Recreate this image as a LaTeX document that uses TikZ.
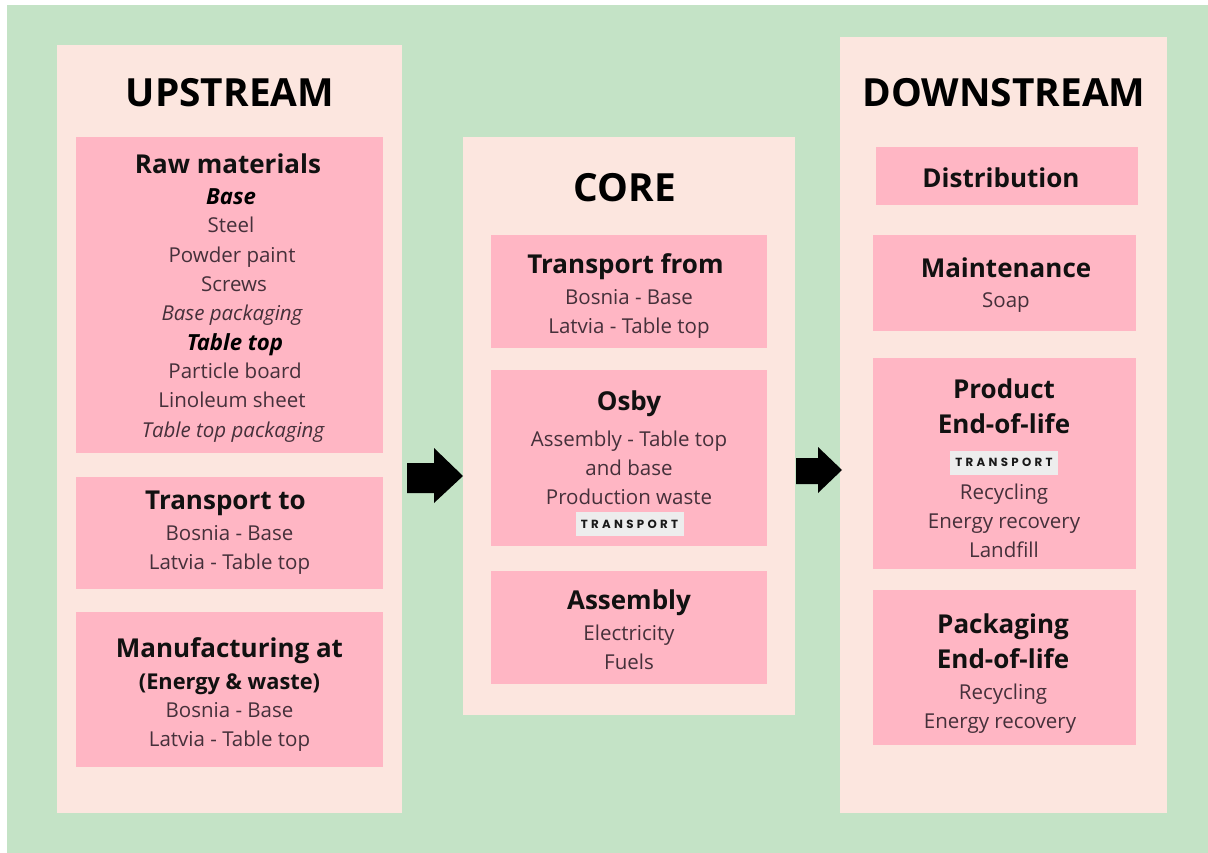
\documentclass[tikz,border=0pt]{standalone}
\usepackage{fontspec}
\setmainfont{Open Sans}
\newfontfamily\tagfont[LetterSpace=28]{Poppins}
\definecolor{bggreen}{HTML}{C4E3C6}
\definecolor{panelc}{HTML}{FCE6DF}
\definecolor{pinkc}{HTML}{FFB6C4}
\definecolor{tagc}{HTML}{EDEDED}
\definecolor{bodyc}{HTML}{45303A}
\definecolor{headc}{HTML}{111111}
\begin{document}
\begin{tikzpicture}[x=1pt,y=-1pt,
  panel/.style={fill=panelc, draw=none, inner sep=0pt, outer sep=0pt, anchor=north west},
  pbox/.style={fill=pinkc, draw=none, inner sep=0pt, outer sep=0pt, anchor=north west},
  ttl/.style={font=\fontsize{38.8}{42}\selectfont\bfseries, text=black, anchor=base, inner sep=0pt},
  hd/.style={font=\fontsize{26}{30}\selectfont\bfseries, text=headc, anchor=base, inner sep=0pt},
  sub/.style={font=\fontsize{21.8}{25}\selectfont\bfseries, text=headc, anchor=base, inner sep=0pt},
  bd/.style={font=\fontsize{20.5}{24}\selectfont, text=bodyc, anchor=base, inner sep=0pt},
  bi/.style={font=\fontsize{22.2}{25}\selectfont\bfseries\itshape, text=black, anchor=base, inner sep=0pt},
  it/.style={font=\fontsize{20.5}{24}\selectfont\itshape, text=bodyc, anchor=base, inner sep=0pt},
  tag/.style={fill=tagc, text=black!90, font=\tagfont\bfseries\fontsize{11.8}{12}\selectfont, minimum width=108pt, minimum height=24pt, inner sep=0pt},
  arr/.style={fill=black, draw=none}
]
\useasboundingbox (0,0) rectangle (1208,853);
\fill[white] (0,0) rectangle (1208,853);
\fill[bggreen] (7,5) rectangle (1208,853);

% panels
\node[panel, minimum width=345pt, minimum height=768pt] (up) at (57,45) {};
\node[panel, minimum width=332pt, minimum height=578pt] (core) at (463,137) {};
\node[panel, minimum width=327pt, minimum height=776pt] (down) at (840,37) {};

% upstream boxes
\node[pbox, minimum width=307pt, minimum height=316pt] (raw) at (76,137) {};
\node[pbox, minimum width=307pt, minimum height=112pt] (tto) at (76,477) {};
\node[pbox, minimum width=307pt, minimum height=155pt] (man) at (76,612) {};

% core boxes
\node[pbox, minimum width=276pt, minimum height=113pt] (tfr) at (491,235) {};
\node[pbox, minimum width=276pt, minimum height=176pt] (osby) at (491,370) {};
\node[pbox, minimum width=276pt, minimum height=113pt] (asm) at (491,571) {};

% downstream boxes
\node[pbox, minimum width=262pt, minimum height=58pt] (dist) at (876,147) {};
\node[pbox, minimum width=263pt, minimum height=96pt] (mnt) at (873,235) {};
\node[pbox, minimum width=263pt, minimum height=211pt] (peol) at (873,358) {};
\node[pbox, minimum width=263pt, minimum height=155pt] (kgeol) at (873,590) {};

\begin{scope}[shift={(0,2)}]
% titles
\node[ttl] (upT) at (230,105) {UPSTREAM};
\node[ttl] (coreT) at (625,200) {CORE};
\node[ttl] (downT) at (1004,105) {DOWNSTREAM};

\node[hd] (raw1) at (228,172) {Raw materials};
\node[bi] (raw2) at (231,203) {Base};
\node[bd] (raw3) at (231,231) {Steel};
\node[bd] (raw4) at (232,260) {Powder paint};
\node[bd] (raw5) at (234,289) {Screws};
\node[it] (raw6) at (232,318) {Base packaging};
\node[bi] (raw7) at (235,348) {Table top};
\node[bd] (raw8) at (235,376) {Particle board};
\node[bd] (raw9) at (232,405) {Linoleum sheet};
\node[it] (raw10) at (233,435) {Table top packaging};

\node[hd] (tto1) at (225.5,507) {Transport to};
\node[bd] (tto2) at (229.5,538) {Bosnia - Base};
\node[bd] (tto3) at (229.5,567) {Latvia - Table top};

\node[hd] (man1) at (229.5,655) {Manufacturing at};
\node[sub] (man2) at (229.5,687) {(Energy \& waste)};
\node[bd] (man3) at (229.5,715) {Bosnia - Base};
\node[bd] (man4) at (229.5,744) {Latvia - Table top};

\node[hd] (tfr1) at (625.5,272) {Transport from};
\node[bd] (tfr2) at (629,303) {Bosnia - Base};
\node[bd] (tfr3) at (629,332) {Latvia - Table top};

\node[hd] (osby1) at (629,408) {Osby};
\node[bd] (osby2) at (629,444) {Assembly - Table top};
\node[bd] (osby3) at (629,473) {and base};
\node[bd] (osby4) at (629,502) {Production waste};

\node[hd] (asm1) at (629,607) {Assembly};
\node[bd] (asm2) at (629,638) {Electricity};
\node[bd] (asm3) at (629,667) {Fuels};

\node[hd] (dist1) at (1001,186) {Distribution};
\node[hd] (mnt1) at (1006,275) {Maintenance};
\node[bd] (mnt2) at (1006,306) {Soap};

\node[hd] (peol1) at (1004,396) {Product};
\node[hd] (peol2) at (1004,431) {End-of-life};
\node[bd] (peol3) at (1004,497) {Recycling};
\node[bd] (peol4) at (1004,526) {Energy recovery};
\node[bd] (peol5) at (1004,555) {Landfill};

\node[hd] (kg1) at (1003,631) {Packaging};
\node[hd] (kg2) at (1003,666) {End-of-life};
\node[bd] (kg3) at (1003,697) {Recycling};
\node[bd] (kg4) at (1000,726) {Energy recovery};
\end{scope}

\node[tag] (osbyT) at (629.5,524) {TRANSPORT};
\node[tag] (peolT) at (1004,462.5) {TRANSPORT};

% block arrows
\fill[arr] (407,463) -- (434,463) -- (434,448) -- (463,476) -- (434,503) -- (434,493) -- (407,493) -- cycle;
\fill[arr] (796,458) -- (818,458) -- (818,447) -- (842,470) -- (818,493) -- (818,484) -- (796,484) -- cycle;
\end{tikzpicture}
\end{document}
